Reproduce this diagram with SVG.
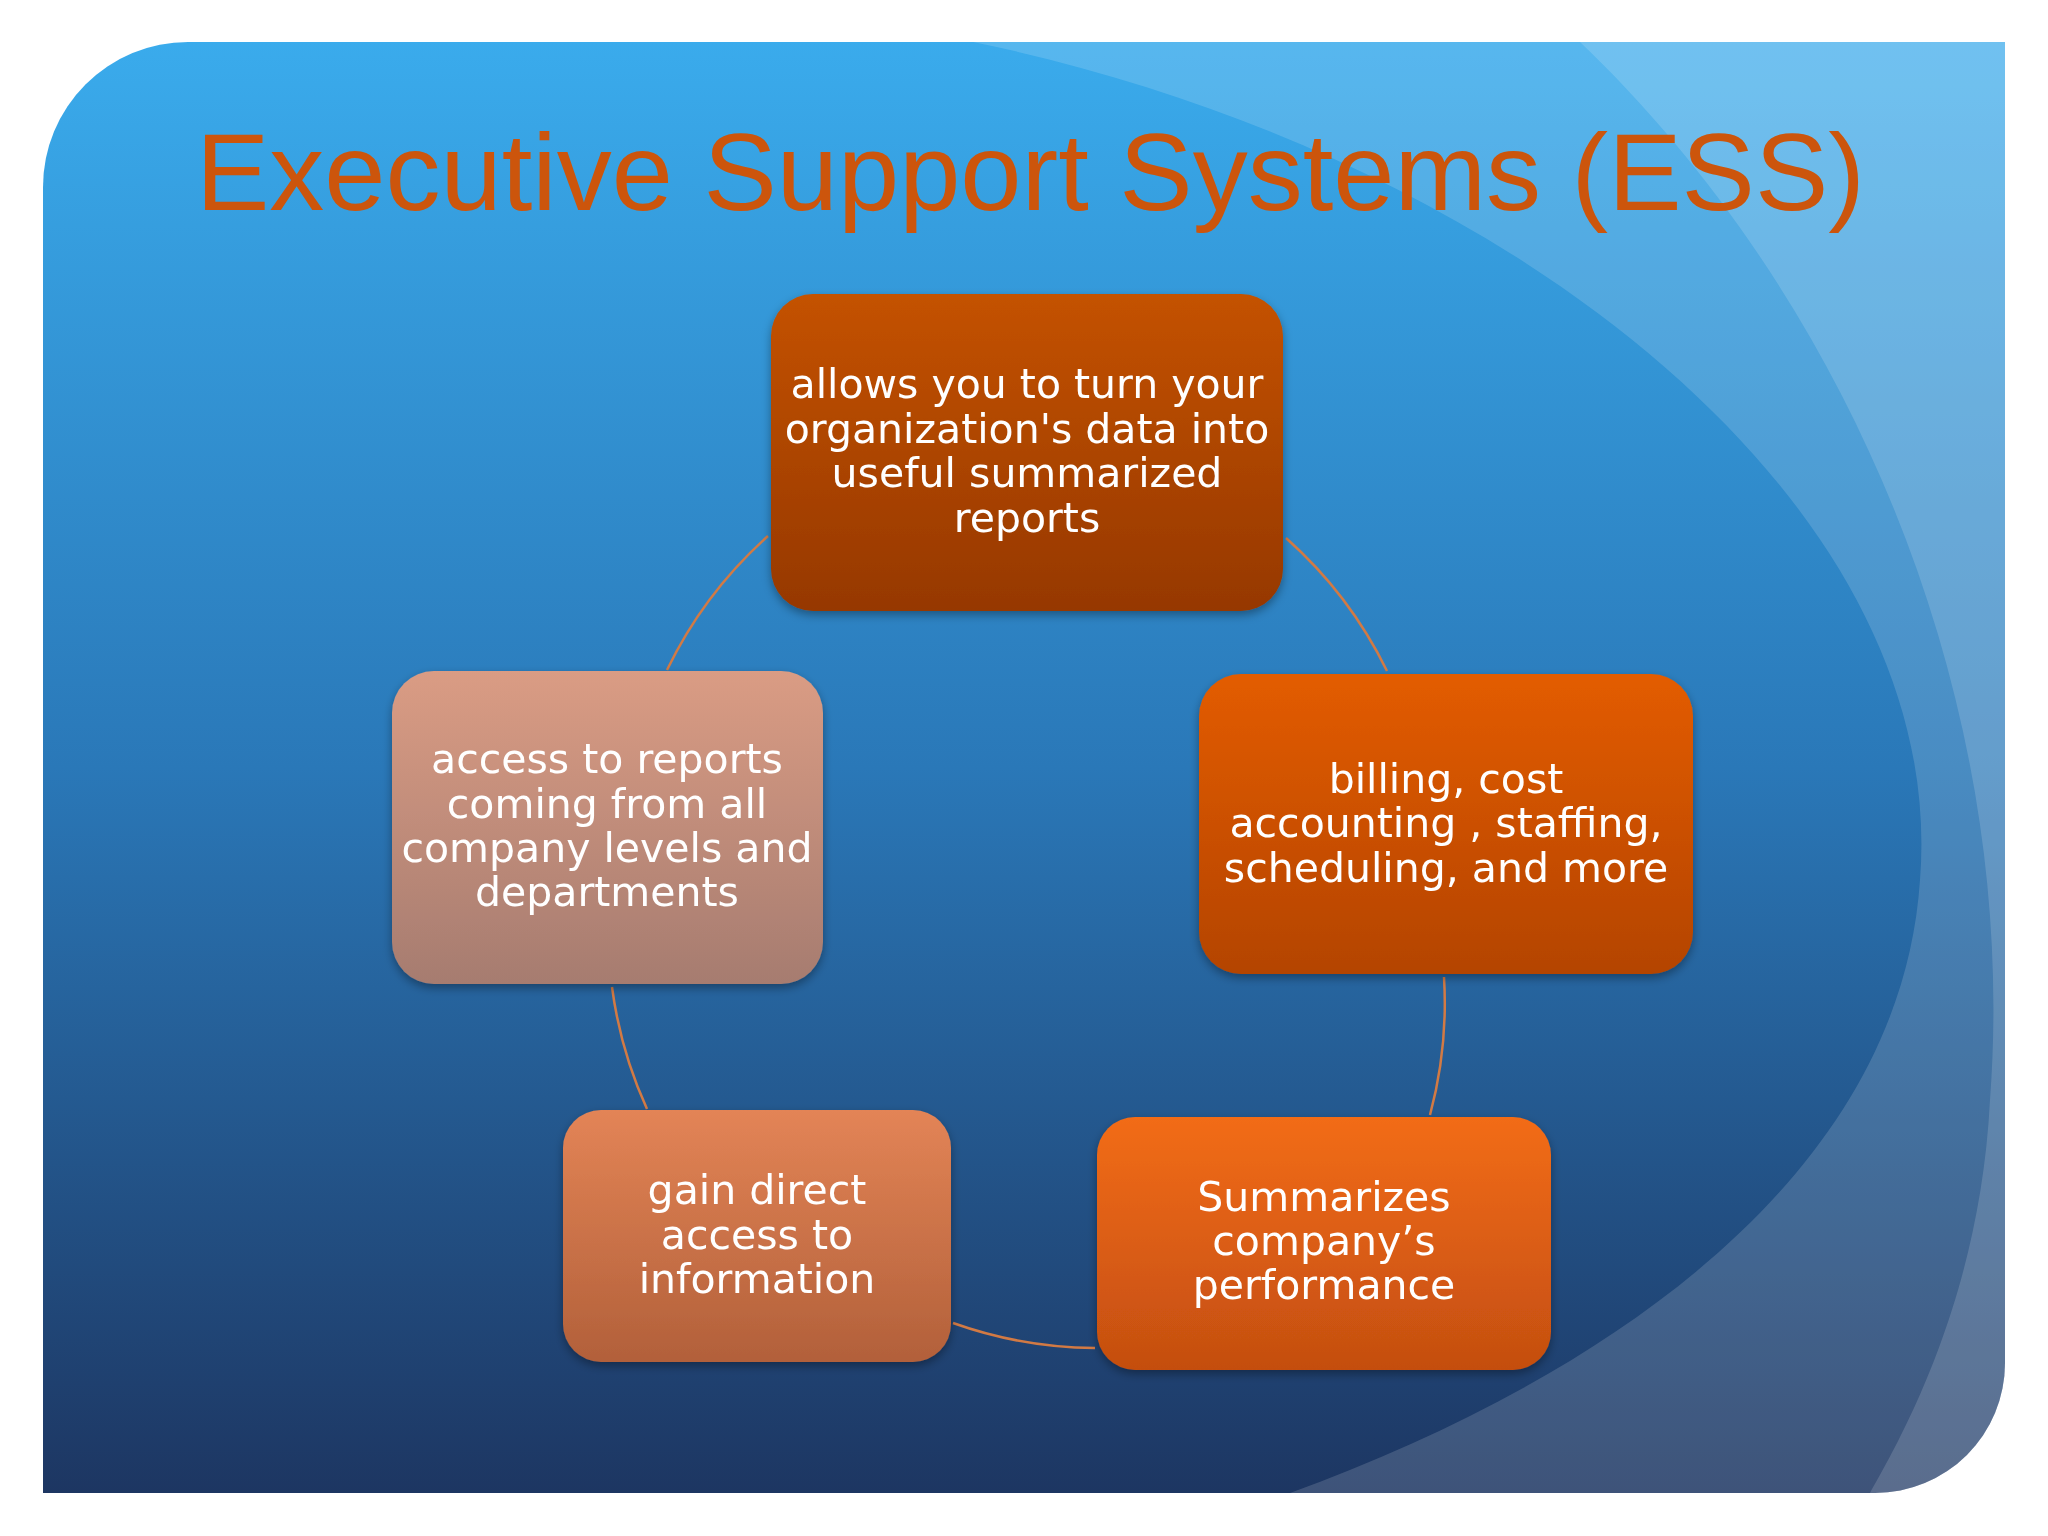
<svg xmlns="http://www.w3.org/2000/svg" width="2048" height="1536" viewBox="0 0 2048 1536">
<style>
.t{font-family:"DejaVu Sans",sans-serif;font-size:41px;fill:#fff;text-anchor:middle}
.c{fill:none;stroke:#D27A44;stroke-width:2.5}
</style>
<defs>
<linearGradient id="bg" x1="0" y1="0" x2="0" y2="1"><stop offset="0" stop-color="#3AABEC"/><stop offset="0.5" stop-color="#2A78B8"/><stop offset="1" stop-color="#1D3662"/></linearGradient>
<linearGradient id="g1" x1="0" y1="0" x2="0" y2="1"><stop offset="0" stop-color="#C45204"/><stop offset="1" stop-color="#963802"/></linearGradient>
<linearGradient id="g2" x1="0" y1="0" x2="0" y2="1"><stop offset="0" stop-color="#E35C02"/><stop offset="1" stop-color="#B44400"/></linearGradient>
<linearGradient id="g3" x1="0" y1="0" x2="0" y2="1"><stop offset="0" stop-color="#F26C18"/><stop offset="1" stop-color="#C44E10"/></linearGradient>
<linearGradient id="g4" x1="0" y1="0" x2="0" y2="1"><stop offset="0" stop-color="#E38456"/><stop offset="1" stop-color="#B2603A"/></linearGradient>
<linearGradient id="g5" x1="0" y1="0" x2="0" y2="1"><stop offset="0" stop-color="#DA9C84"/><stop offset="1" stop-color="#A67C70"/></linearGradient>
<clipPath id="cp"><path id="panel" d="M188,42 L2005,42 L2005,1363 A130,130 0 0 1 1875,1493 L43,1493 L43,187 A145,145 0 0 1 188,42 Z"/></clipPath>
<filter id="sh" x="-10%" y="-10%" width="120%" height="125%"><feDropShadow dx="0" dy="4" stdDeviation="5" flood-color="#000" flood-opacity="0.35"/></filter>
</defs>
<rect width="2048" height="1536" fill="#fff"/>
<g clip-path="url(#cp)">
<rect x="43" y="42" width="1962" height="1451" fill="url(#bg)"/>
<path d="M973,42 C1500,150 1950,500 1920,880 C1900,1180 1600,1380 1290,1493 L2005,1493 L2005,42 Z" fill="#fff" opacity="0.15"/>
<path d="M1580,42 C1850,300 2020,700 1990,1100 C1980,1300 1900,1440 1870,1493 L2005,1493 L2005,42 Z" fill="#fff" opacity="0.15"/>
</g>
<text x="196" y="210" style="font-family:'Liberation Sans',Arial,sans-serif;font-size:110px;fill:#CC550C">Executive Support Systems (ESS)</text>
<g id="connectors">
<path class="c" d="M768,536 A431,431 0 0 0 667,670"/>
<path class="c" d="M1286,538 A431,431 0 0 1 1387,671"/>
<path class="c" d="M1444,977 A431,431 0 0 1 1430,1115"/>
<path class="c" d="M1095,1348 A431,431 0 0 1 953,1323"/>
<path class="c" d="M647,1109 A431,431 0 0 1 612,987"/>
</g>
<g id="n1" filter="url(#sh)"><rect x="771" y="294" width="512" height="317" rx="42" fill="url(#g1)"/>
<text class="t"><tspan x="1027" y="398">allows you to turn your</tspan><tspan x="1027" y="443">organization's data into</tspan><tspan x="1027" y="487">useful summarized</tspan><tspan x="1027" y="532">reports</tspan></text></g>
<g id="n2" filter="url(#sh)"><rect x="1199" y="674" width="494" height="300" rx="42" fill="url(#g2)"/>
<text class="t"><tspan x="1446" y="793">billing, cost</tspan><tspan x="1446" y="837">accounting , staffing,</tspan><tspan x="1446" y="882">scheduling, and more</tspan></text></g>
<g id="n3" filter="url(#sh)"><rect x="1097" y="1117" width="454" height="253" rx="38" fill="url(#g3)"/>
<text class="t"><tspan x="1324" y="1211">Summarizes</tspan><tspan x="1324" y="1255">company’s</tspan><tspan x="1324" y="1299">performance</tspan></text></g>
<g id="n4" filter="url(#sh)"><rect x="563" y="1110" width="388" height="252" rx="38" fill="url(#g4)"/>
<text class="t"><tspan x="757" y="1204">gain direct</tspan><tspan x="757" y="1249">access to</tspan><tspan x="757" y="1293">information</tspan></text></g>
<g id="n5" filter="url(#sh)"><rect x="392" y="671" width="431" height="313" rx="42" fill="url(#g5)"/>
<text class="t"><tspan x="607" y="773">access to reports</tspan><tspan x="607" y="818">coming from all</tspan><tspan x="607" y="862">company levels and</tspan><tspan x="607" y="906">departments</tspan></text></g>
</svg>
